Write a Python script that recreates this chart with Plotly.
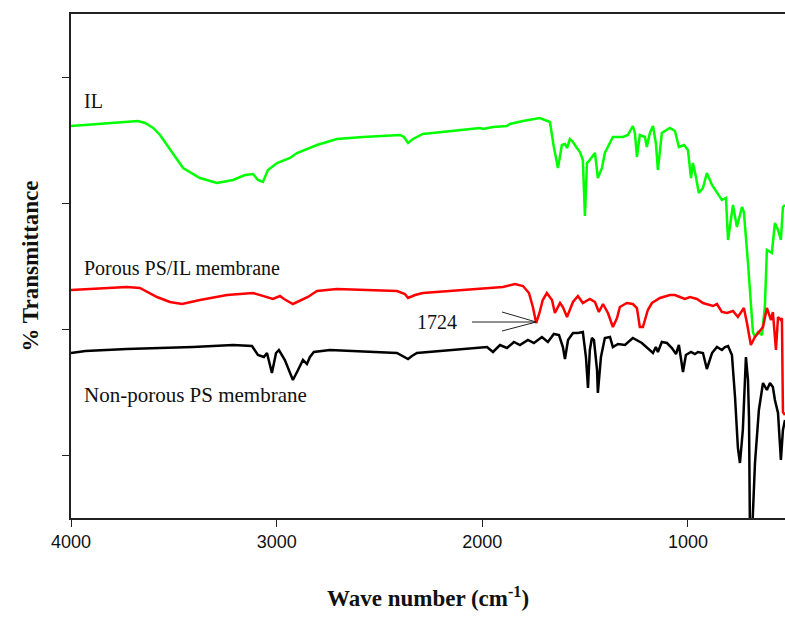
import plotly.graph_objects as go

# ---- Data ----
# Wavenumbers (cm^-1) and offset transmittance (arbitrary units)
il_wn = [4000, 3930, 3859, 3762, 3674, 3640, 3600, 3567, 3504, 3455, 3373, 3290, 3212, 3154,
         3115, 3091, 3067, 3042, 2998, 2935, 2901, 2804, 2707, 2580, 2400, 2381, 2361, 2337,
         2289, 2094, 2011, 1997, 1948, 1880, 1866, 1802, 1720, 1671, 1652, 1632, 1613, 1598,
         1588, 1574, 1559, 1540, 1525, 1511, 1501, 1491, 1481, 1467, 1452, 1438, 1418, 1404,
         1389, 1365, 1316, 1292, 1268, 1258, 1248, 1234, 1209, 1200, 1185, 1170, 1156, 1146,
         1127, 1088, 1063, 1044, 1019, 1000, 985, 976, 961, 947, 927, 908, 883, 859, 835, 815,
         805, 781, 762, 737, 728, 708, 684, 674, 660, 640, 626, 616, 601, 592, 577, 562, 548,
         538, 528]
il_t = [392, 393, 394, 396, 397, 395, 390, 383, 365, 350, 340, 335, 338, 343,
        344, 338, 336, 348, 355, 360, 365, 373, 379, 381, 383, 381, 375, 379,
        384, 388, 390, 389, 391, 392, 394, 397, 400, 396, 371, 350, 373, 374,
        370, 379, 376, 370, 366, 358, 302, 355, 357, 361, 365, 340, 350, 365,
        371, 381, 381, 383, 392, 385, 361, 383, 381, 371, 385, 392, 375, 348,
        385, 390, 387, 371, 373, 368, 340, 355, 341, 325, 330, 345, 333, 326, 318, 320,
        278, 313, 291, 311, 306, 255, 186, 181, 186, 183, 211, 268, 266, 265, 295, 288, 278,
        311, 313]

porous_wn = [4000, 3728, 3665, 3582, 3519, 3460, 3373, 3241, 3115, 3047, 3018, 2984, 2964,
             2921, 2887, 2848, 2804, 2707, 2415, 2376, 2361, 2327, 2289, 2094, 1900, 1841,
             1802, 1773, 1754, 1738, 1722, 1706, 1686, 1661, 1647, 1622, 1608, 1588, 1559,
             1535, 1511, 1477, 1452, 1433, 1413, 1389, 1365, 1345, 1331, 1297, 1268, 1248,
             1234, 1219, 1195, 1175, 1136, 1088, 1063, 1039, 1015, 990, 956, 927, 878, 859,
             835, 810, 781, 757, 728, 713, 694, 674, 660, 635, 616, 596, 587, 572, 562, 548,
             543, 538, 528]
porous_t = [228, 231, 230, 221, 216, 214, 218, 223, 225, 221, 219, 222, 219,
            214, 217, 221, 227, 229, 227, 224, 220, 223, 225, 228, 231, 234,
            232, 225, 211, 195, 205, 218, 225, 218, 205, 215, 211, 201, 216,
            222, 215, 219, 216, 206, 214, 205, 191, 200, 211, 215, 214, 210,
            191, 191, 208, 215, 220, 223, 223, 221, 219, 221, 219, 215, 212, 214,
            206, 205, 207, 201, 210, 195, 173, 181, 185, 191, 210, 198, 206, 168, 201, 198,
            200, 106, 103]

nonporous_wn = [4000, 3930, 3728, 3407, 3212, 3120, 3091, 3062, 3047, 3023, 3003, 2989, 2960,
                2921, 2896, 2872, 2853, 2838, 2819, 2741, 2415, 2376, 2361, 2342, 2318, 1977,
                1948, 1914, 1880, 1846, 1817, 1778, 1749, 1710, 1681, 1652, 1627, 1608, 1598,
                1583, 1559, 1535, 1511, 1496, 1486, 1477, 1467, 1457, 1442, 1438, 1423, 1404,
                1379, 1365, 1340, 1306, 1268, 1224, 1185, 1170, 1156, 1146, 1127, 1102, 1078,
                1058, 1044, 1024, 1010, 985, 966, 951, 927, 908, 883, 859, 835, 820, 805, 786,
                771, 757, 747, 733, 718, 708, 703, 699, 691, 684, 674, 655, 635, 616, 601, 587,
                577, 562, 548, 538, 528]
nonporous_t = [165, 167, 169, 171, 173, 172, 163, 161, 165, 145, 165, 168, 158,
               138, 148, 158, 154, 161, 166, 168, 165, 161, 159, 162, 165, 171,
               166, 173, 170, 176, 173, 178, 175, 181, 176, 184, 183, 171, 159,
               178, 185, 185, 186, 161, 130, 168, 180, 178, 148, 125, 161, 180,
               181, 171, 174, 173, 180, 175, 168, 165, 171, 166, 176, 175, 170,
               164, 173, 146, 163, 166, 164, 166, 165, 149, 165, 171, 168, 171, 172, 163,
               121, 70, 55, 88, 161, 138, 100, 0, -30, 0, 55, 108, 135, 128, 135, 131,
               118, 105, 58, 88, 98]

series_names = ["IL", "Porous PS/IL membrane", "Non-porous PS membrane"]
series_colors = ["#00ff00", "#ff0000", "#000000"]
x_tick_vals = [4000, 3000, 2000, 1000]
y_tick_vals = [63, 189, 315, 441]
peak_label = "1724"
peak_wn = 1738
peak_t = 196

fig = go.Figure()
for wn, t, name, col in zip([il_wn, porous_wn, nonporous_wn], [il_t, porous_t, nonporous_t],
                            series_names, series_colors):
    fig.add_trace(go.Scatter(x=wn, y=t, mode="lines", name=name,
                             line=dict(color=col, width=2.5), showlegend=False))

serif = "Liberation Serif, Times New Roman, serif"
label_font = dict(family=serif, size=20, color="#111")

annotations = [
    dict(x=3948, y=417, text="IL", xanchor="left", yanchor="middle", showarrow=False, font=label_font),
    dict(x=3948, y=250, text="Porous PS/IL membrane", xanchor="left", yanchor="middle",
         showarrow=False, font=label_font),
    dict(x=3948, y=123, text="Non-porous PS membrane", xanchor="left", yanchor="middle",
         showarrow=False, font=dict(family=serif, size=21, color="#111")),
    dict(x=2112, y=peak_t, text=peak_label, xanchor="right", yanchor="middle",
         showarrow=False, font=label_font),
]

shapes = [
    dict(type="line", xref="x", yref="y", x0=2050, y0=peak_t, x1=peak_wn, y1=peak_t,
         line=dict(color="#222", width=1)),
    dict(type="line", xref="x", yref="y", x0=1904, y0=peak_t + 10, x1=peak_wn, y1=peak_t,
         line=dict(color="#222", width=1)),
    dict(type="line", xref="x", yref="y", x0=1904, y0=peak_t - 9, x1=peak_wn, y1=peak_t,
         line=dict(color="#222", width=1)),
]

fig.update_layout(
    width=785, height=618,
    margin=dict(l=71, r=0, t=14, b=100),
    paper_bgcolor="white", plot_bgcolor="white",
    annotations=annotations, shapes=shapes,
    xaxis=dict(range=[4000, 528], tickvals=x_tick_vals, ticks="outside", ticklen=7,
               tickwidth=1.2, tickcolor="#222", showline=True, linecolor="#222", linewidth=1.5,
               mirror=True, showgrid=False, zeroline=False,
               tickfont=dict(family="Liberation Sans, Arial, sans-serif", size=18, color="#111"),
               title=dict(text="<b>Wave number (cm<sup>-1</sup>)</b>",
                          font=dict(family=serif, size=23, color="#111"), standoff=39)),
    yaxis=dict(range=[0, 504], tickvals=y_tick_vals, ticks="outside", ticklen=7,
               tickwidth=1.2, tickcolor="#222", showticklabels=False, showline=True,
               linecolor="#222", linewidth=1.5, mirror=False, showgrid=False, zeroline=False,
               title=dict(text="<b>% Transmittance</b>",
                          font=dict(family=serif, size=23, color="#111"), standoff=17)),
)

fig.write_html("out.html", config={"displayModeBar": False},
               post_script="document.body.style.margin='0';document.body.style.overflow='hidden';")
